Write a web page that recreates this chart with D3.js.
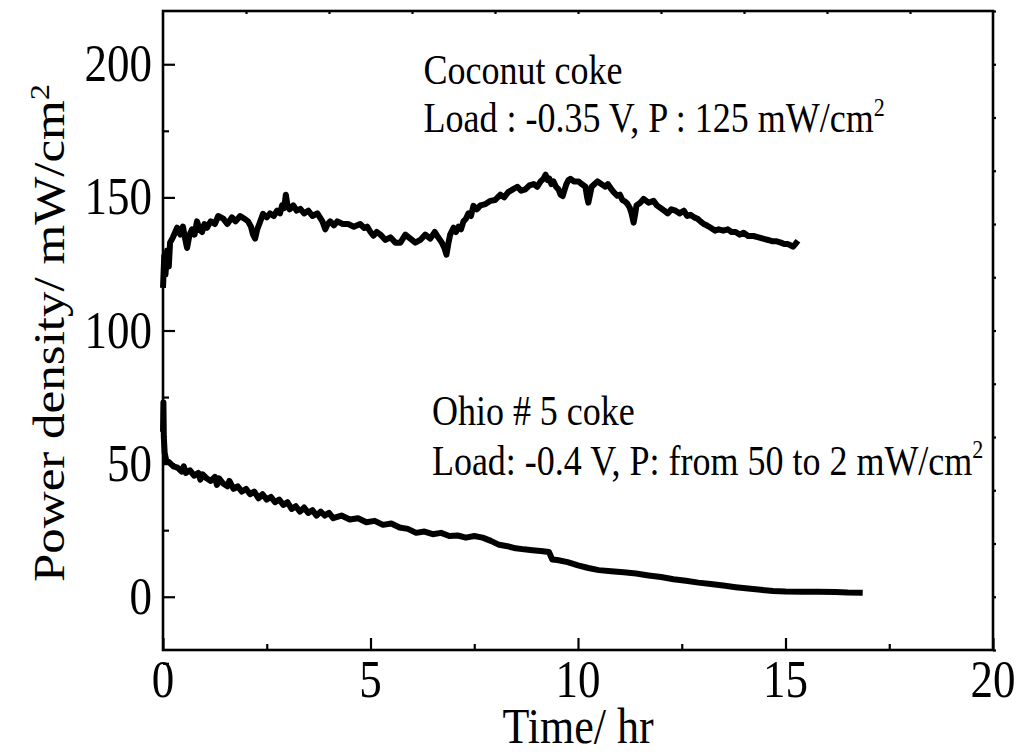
<!DOCTYPE html>
<meta charset="utf-8">
<script src="https://d3js.org/d3.v7.min.js"></script>
<style>
  body { margin: 0; background: #fff; }
  text { font-family: "Liberation Serif", "Times New Roman", serif; fill: #000; }
</style>
<div id="chart"></div>
<script>

// data: [time (hr), power density (mW/cm2)]
var coconut = [
  [0,116],[0.03,128],[0.06,121],[0.1,130],[0.14,124],[0.17,133],[0.24,135],[0.34,138.6],[0.42,136],[0.48,139],
  [0.54,134],[0.58,131],[0.64,136],[0.7,138],[0.76,136],[0.82,141],[0.88,138],[0.94,137],[1.0,140],[1.06,138.6],
  [1.15,141],[1.25,140],[1.33,143],[1.45,142],[1.55,140],[1.66,142.5],[1.75,141],[1.86,143],[1.96,142],[2.05,141],
  [2.12,139],[2.17,136],[2.22,134.5],[2.27,138],[2.32,140],[2.41,143.8],[2.5,142.5],[2.58,144],[2.67,143],[2.75,145],
  [2.82,144],[2.87,147],[2.92,146],[2.96,151],[3.0,147],[3.05,145.5],[3.14,147],[3.22,145],[3.31,145.7],[3.4,144],
  [3.5,145],[3.6,143],[3.72,144],[3.8,142],[3.84,141],[3.91,138],[3.97,140],[4.03,141],[4.12,139.5],[4.2,141],
  [4.33,140],[4.46,140],[4.6,139],[4.75,140],[4.85,138.5],[4.92,139],[5.0,137],[5.07,135.6],[5.15,137],[5.24,136],
  [5.36,134],[5.48,135],[5.6,133],[5.72,133],[5.84,136],[5.96,134.5],[6.08,133],[6.2,134],[6.32,136],[6.44,134.5],
  [6.55,137],[6.63,135],[6.72,133],[6.78,131],[6.83,128.5],[6.88,133],[6.92,136],[7.0,138.6],[7.06,137],[7.12,139],
  [7.18,138],[7.24,141],[7.3,142],[7.36,144],[7.42,143],[7.48,146.8],[7.56,145.5],[7.65,147],[7.77,147.5],[7.89,148.7],
  [8.0,149],[8.13,151],[8.22,150],[8.32,152],[8.43,153],[8.54,154],[8.63,152.5],[8.73,153],[8.83,154.5],[8.93,155],
  [9.02,154],[9.1,156],[9.17,157],[9.22,158.5],[9.27,156.5],[9.31,157],[9.36,155],[9.41,156],[9.47,154],[9.53,153],
  [9.58,151],[9.63,150.5],[9.68,153],[9.72,155],[9.77,156.5],[9.82,157],[9.9,156],[10.01,156],[10.09,155],[10.18,154],
  [10.22,150],[10.25,148],[10.29,151],[10.33,154],[10.4,155],[10.47,156],[10.56,155],[10.66,154],[10.72,155],[10.78,153.6],
  [10.86,152],[10.95,150.6],[11.01,151],[11.07,149],[11.13,148.5],[11.19,147.6],[11.25,146],[11.29,144],[11.34,140.5],[11.38,144],
  [11.41,147],[11.5,148],[11.58,149.4],[11.7,148],[11.82,148.7],[11.9,147],[11.99,146],[12.08,145],[12.16,144],[12.25,145.5],
  [12.35,145],[12.45,144],[12.55,145],[12.63,143],[12.71,143.5],[12.8,142.5],[12.88,142],[12.95,141],[13.03,140],[13.1,139.5],
  [13.2,138.6],[13.3,137.5],[13.39,138],[13.5,137.5],[13.61,138],[13.7,137],[13.8,137],[13.9,136],[13.99,136.7],[14.1,135.5],
  [14.23,135.5],[14.35,135],[14.48,134.4],[14.58,134],[14.69,133.5],[14.79,133.5],[14.89,133],[14.97,132.5],[15.05,132.5],[15.12,132],
  [15.18,131.5],[15.24,132.5],[15.3,133.7]
];

var ohio = [
  [0,62],[0.01,73],[0.02,60],[0.04,54],[0.08,51],[0.15,50.5],[0.25,49],[0.35,48.5],[0.45,47],[0.5,49],
  [0.55,46.5],[0.65,47.5],[0.75,45.5],[0.85,46.5],[0.9,44],[0.95,46],[1.05,44.5],[1.15,43.5],[1.25,45],[1.3,42],
  [1.35,44.5],[1.45,42.5],[1.55,41.5],[1.6,43.5],[1.7,40.5],[1.8,41.5],[1.9,39.5],[2.0,40.5],[2.1,38.5],[2.2,39.5],
  [2.3,37],[2.4,38.5],[2.5,36.5],[2.6,37.5],[2.7,35.5],[2.8,36.5],[2.9,34.5],[3.0,35.5],[3.1,33],[3.2,34],
  [3.3,32],[3.4,33.5],[3.5,31.5],[3.6,32.5],[3.7,30.5],[3.8,32],[3.9,30.5],[4.0,31.5],[4.1,29.5],[4.3,30.5],
  [4.5,29],[4.7,29.5],[4.9,28],[5.1,28.5],[5.3,27],[5.5,27.5],[5.7,26],[5.9,25.5],[6.1,24],[6.3,24.5],
  [6.5,23.5],[6.7,24],[6.9,22.8],[7.1,23],[7.3,22.2],[7.5,22.8],[7.7,22.2],[7.9,21],[8.1,19.5],[8.3,19],
  [8.5,18.2],[8.7,17.8],[8.9,17.5],[9.1,17.2],[9.3,16.8],[9.38,14],[9.5,13.8],[9.75,13],[10.0,11.8],[10.25,10.8],
  [10.5,10],[10.8,9.6],[11.1,9.2],[11.4,8.7],[11.7,8],[12.0,7.4],[12.3,6.6],[12.6,6],[12.9,5.3],[13.2,4.8],
  [13.5,4.2],[13.8,3.6],[14.1,3.1],[14.4,2.6],[14.7,2.2],[15.0,2.0],[15.4,1.9],[15.8,1.9],[16.2,1.8],[16.5,1.6],
  [16.86,1.5]
];

var xTicks = [0, 5, 10, 15, 20];
var xMinor = [2.5, 7.5, 12.5, 17.5];
var yTicks = [0, 50, 100, 150, 200];
var yMinor = [-25, 25, 75, 125, 175];
var xTitle = "Time/ hr";
var yTitle = "Power density/ mW/cm";
var notes = [
  {x: 6.28, y: 192.5, text: "Coconut coke", sup: ""},
  {x: 6.28, y: 174.5, text: "Load : -0.35 V, P : 125 mW/cm", sup: "2"},
  {x: 6.48, y: 64.5, text: "Ohio # 5 coke", sup: ""},
  {x: 6.48, y: 45.8, text: "Load: -0.4 V, P: from 50 to 2 mW/cm", sup: "2"}
];

var W = 1019, H = 755;
var plotL = 163, plotR = 993, plotT = 11, plotB = 650;
var stretch = 1.16;

var svg = d3.select("#chart").append("svg")
    .attr("width", W)
    .attr("height", H);

var x = d3.scaleLinear().domain([0, 20]).range([plotL, plotR]);
var y = d3.scaleLinear().domain([-20, 220]).range([plotB, plotT]);

// inward ticks, major and minor
svg.append("g")
    .attr("transform", "translate(0," + plotB + ")")
    .call(d3.axisBottom(x).tickValues(xTicks).tickSize(-12).tickFormat(""));
svg.append("g")
    .attr("transform", "translate(0," + plotB + ")")
    .call(d3.axisBottom(x).tickValues(xMinor).tickSize(-6).tickFormat(""));
svg.append("g")
    .attr("transform", "translate(" + plotL + ",0)")
    .call(d3.axisLeft(y).tickValues(yTicks).tickSize(-12).tickFormat(""));
svg.append("g")
    .attr("transform", "translate(" + plotL + ",0)")
    .call(d3.axisLeft(y).tickValues(yMinor).tickSize(-6).tickFormat(""));
// faint ticks on the top and right frame
svg.append("g")
    .attr("transform", "translate(0," + plotT + ")")
    .call(d3.axisTop(x).tickValues(d3.range(2, 20, 2)).tickSize(-3).tickFormat(""));
svg.append("g")
    .attr("transform", "translate(" + plotR + ",0)")
    .call(d3.axisRight(y).tickValues(d3.range(-20, 221, 20)).tickSize(3).tickFormat(""));

svg.selectAll(".domain").remove();
svg.selectAll(".tick line").attr("stroke", "#000").attr("stroke-width", 2.2);

svg.append("rect")
    .attr("x", plotL).attr("y", plotT)
    .attr("width", plotR - plotL).attr("height", plotB - plotT)
    .attr("fill", "none")
    .attr("stroke", "#000")
    .attr("stroke-width", 2.6);

// tick labels
svg.append("g").selectAll("text")
  .data(xTicks)
  .join("text")
    .attr("transform", function(d) { return "translate(" + x(d) + ",697) scale(1," + stretch + ")"; })
    .attr("text-anchor", "middle")
    .style("font-size", "45px")
    .text(function(d) { return d; });

svg.append("g").selectAll("text")
  .data(yTicks)
  .join("text")
    .attr("transform", function(d) { return "translate(152," + (y(d) + 17) + ") scale(1," + stretch + ")"; })
    .attr("text-anchor", "end")
    .style("font-size", "45px")
    .text(function(d) { return d; });

// axis titles
svg.append("text")
    .attr("transform", "translate(" + ((plotL + plotR) / 2) + ",743) scale(1," + stretch + ")")
    .attr("text-anchor", "middle")
    .style("font-size", "44px")
    .text(xTitle);

var yt = svg.append("text")
    .attr("transform", "translate(64,333) rotate(-90) scale(" + stretch + ",1)")
    .attr("text-anchor", "middle")
    .style("font-size", "44px");
yt.append("tspan").text(yTitle);
yt.append("tspan").attr("dy", "-0.55em").style("font-size", "28px").text("2");

// data lines
var line = d3.line()
    .x(function(d) { return x(d[0]); })
    .y(function(d) { return y(d[1]); });

[coconut, ohio].forEach(function(series) {
  svg.append("path")
      .datum(series)
      .attr("fill", "none")
      .attr("stroke", "#000")
      .attr("stroke-width", 6)
      .attr("stroke-linejoin", "round")
      .attr("d", line);
});

// annotations
notes.forEach(function(n) {
  var t = svg.append("text")
      .attr("transform", "translate(" + x(n.x) + "," + y(n.y) + ") scale(1," + stretch + ")")
      .style("font-size", "36px");
  t.append("tspan").text(n.text);
  if (n.sup) t.append("tspan").attr("dy", "-0.65em").style("font-size", "22px").text(n.sup);
});

</script>
